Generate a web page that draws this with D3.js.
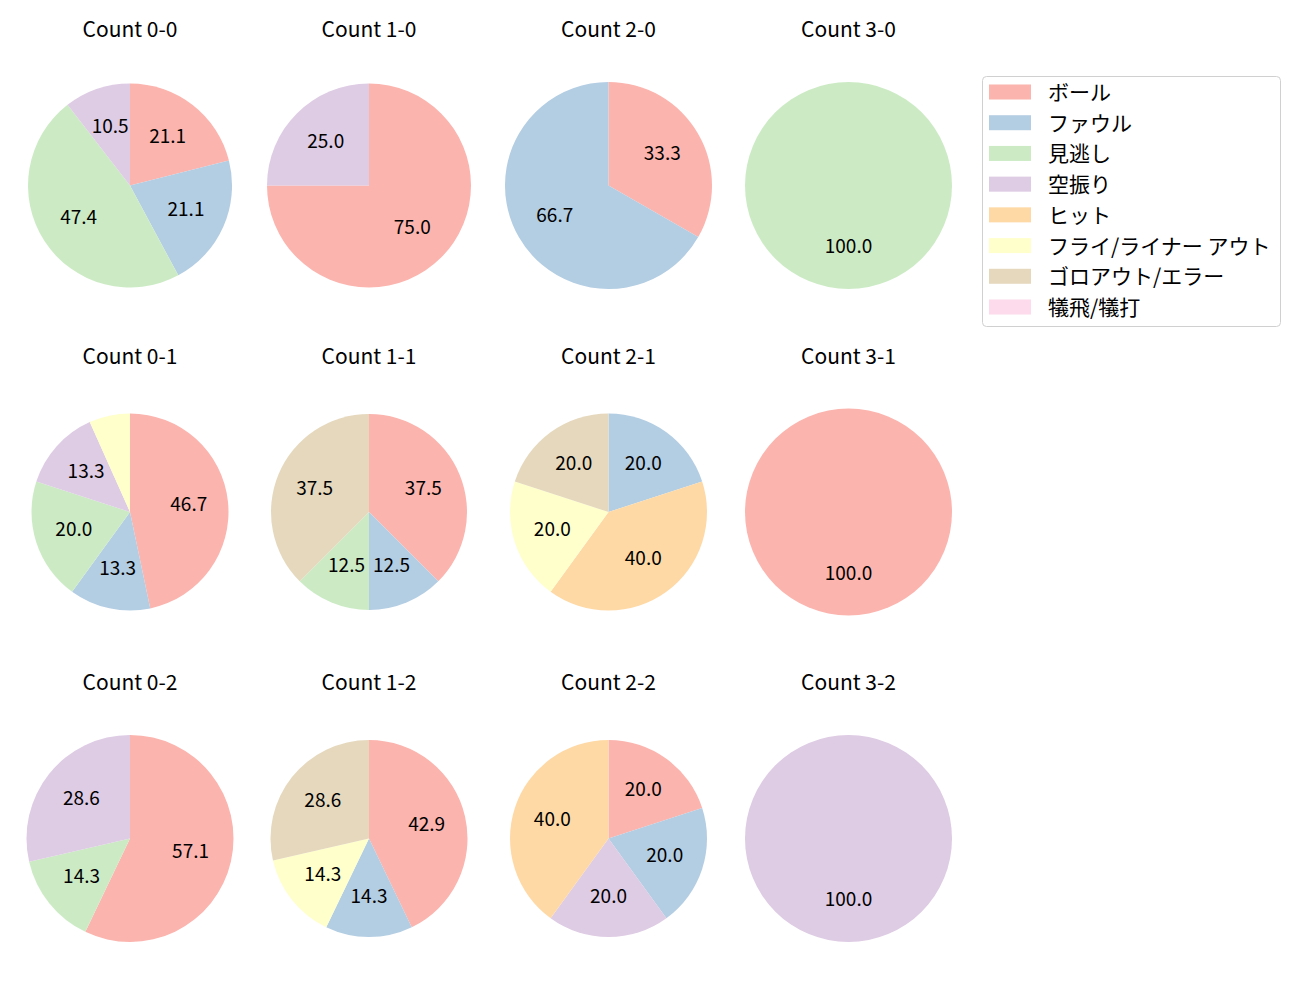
<!DOCTYPE html>
<html><head><meta charset="utf-8">
<script src="https://cdn.jsdelivr.net/npm/d3@7"></script>
<style>body{margin:0;background:#fff}svg{display:block}text{font-family:"Noto Sans CJK JP","Noto Sans",sans-serif}</style>
</head><body>
<script>
const categories = ["ボール","ファウル","見逃し","空振り","ヒット","フライ/ライナー アウト","ゴロアウト/エラー","犠飛/犠打"];
const colors = ["#fbb4ae","#b3cde3","#ccebc5","#decbe4","#fed9a6","#ffffcc","#e5d8bd","#fddaec"];
const titles = ["Count 0-0","Count 1-0","Count 2-0","Count 3-0",
                "Count 0-1","Count 1-1","Count 2-1","Count 3-1",
                "Count 0-2","Count 1-2","Count 2-2","Count 3-2"];
// percentage per category, in category order
const shares = [
  [21.1,21.1,47.4,10.5,0,0,0,0],
  [75.0,0,0,25.0,0,0,0,0],
  [33.3,66.7,0,0,0,0,0,0],
  [0,0,100.0,0,0,0,0,0],
  [46.7,13.3,20.0,13.3,0,6.7,0,0],
  [37.5,12.5,12.5,0,0,0,37.5,0],
  [0,20.0,0,0,40.0,20.0,20.0,0],
  [100.0,0,0,0,0,0,0,0],
  [57.1,0,14.3,28.6,0,0,0,0],
  [42.9,14.3,0,0,0,14.3,28.6,0],
  [20.0,20.0,0,20.0,40.0,0,0,0],
  [0,0,0,100.0,0,0,0,0]
];

// layout (not data)
const W = 1300, H = 1000;
const colX = [130, 369, 608.5, 848.5];
const rowY = [185.5, 512, 838.5];
const titleY = [27.5, 354.5, 680.5];
const radii = [102,102,103.5,103.5, 98.5,98,98.5,103.5, 103.5,98.5,98.5,103.5];

const svg = d3.select("body").append("svg").attr("width", W).attr("height", H);
const color = d3.scaleOrdinal().domain(categories).range(colors);
const pie = d3.pie().sort(null).startAngle(0).endAngle(2*Math.PI).value(d => d.v);

shares.forEach((vals, i) => {
  const cx = colX[i % 4], cy = rowY[Math.floor(i / 4)], r = radii[i];
  const g = svg.append("g").attr("transform", `translate(${cx},${cy})`);
  const rows = categories.map((c, k) => ({c, v: vals[k]})).filter(d => d.v > 0);
  const arcs = pie(rows);
  const arc = d3.arc().innerRadius(0).outerRadius(r);
  const lab = d3.arc().innerRadius(r * 0.6).outerRadius(r * 0.6);
  g.selectAll("path").data(arcs).join("path")
    .attr("d", arc).attr("fill", d => color(d.data.c));
  g.selectAll("text.lbl").data(arcs.filter(d => d.data.v >= 10)).join("text")
    .attr("class","lbl")
    .attr("transform", d => { const [x, y] = lab.centroid(d); return `translate(${x},${y - 3})`; })
    .attr("text-anchor","middle").attr("dominant-baseline","central")
    .attr("font-size", 19).attr("fill","#000")
    .text(d => d.data.v.toFixed(1));
  svg.append("text")
    .attr("x", cx).attr("y", titleY[Math.floor(i / 4)])
    .attr("text-anchor","middle").attr("dominant-baseline","central")
    .attr("font-size", 21).attr("fill","#000")
    .text(titles[i]);
});

// legend
const lg = svg.append("g");
lg.append("rect").attr("x", 982.5).attr("y", 76.5).attr("width", 298).attr("height", 250)
  .attr("rx", 4).attr("fill","#fff").attr("stroke","#d0d0d0");
const ly = d3.scaleLinear().domain([0, categories.length - 1]).range([92, 307]);
categories.forEach((c, k) => {
  lg.append("rect").attr("x", 989).attr("y", ly(k) - 7.5).attr("width", 42).attr("height", 15)
    .attr("fill", color(c));
  lg.append("text").attr("x", 1048).attr("y", ly(k) - 1).attr("dominant-baseline","central")
    .attr("font-size", 21).attr("fill","#000").text(c);
});
</script>
</body></html>
